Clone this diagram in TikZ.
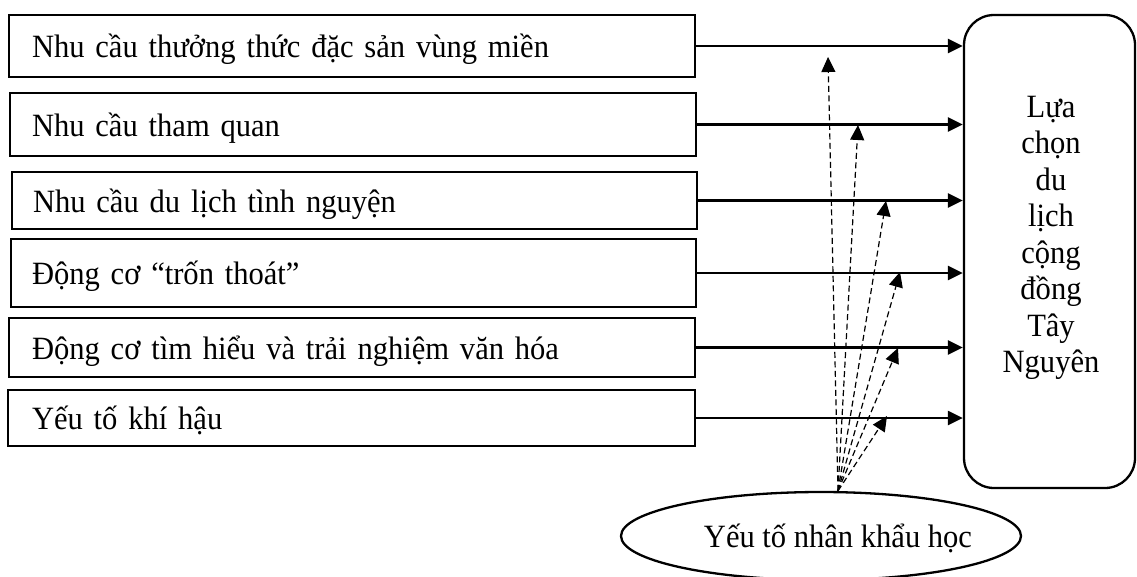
\documentclass[tikz,border=0pt]{standalone}
\usepackage{fontspec}
\setmainfont{Liberation Serif}[FakeStretch=0.94]
\usetikzlibrary{arrows.meta,shapes.geometric}
\begin{document}
\begin{tikzpicture}[x=1pt,y=-1pt,
  every node/.style={font=\fontsize{32.5}{36.5}\selectfont},
  lbox/.style={draw, line width=2.3pt, rectangle, inner ysep=0pt,
    text height=30pt, text depth=7pt, align=left},
  rbox/.style={draw, line width=2.3pt, rounded corners=30pt, inner sep=0pt},
  ebox/.style={draw, ellipse, line width=2.3pt, inner sep=0pt,
    text height=30pt, text depth=7pt},
  sarrow/.style={line width=2.3pt, -{Triangle[length=15pt,width=14pt]}},
  darrow/.style={line width=1.2pt, dash pattern=on 6pt off 3.5pt,
    -{Triangle[length=15pt,width=14pt]}},
]
\useasboundingbox (0,0) rectangle (1137,576);

% left boxes
\node[lbox, minimum width=686pt, minimum height=62pt, inner xsep=23pt, text width=640pt] (b1) at (352,46) {Nhu cầu thưởng thức đặc sản vùng miền};
\node[lbox, minimum width=686pt, minimum height=63pt, inner xsep=22pt, text width=642pt] (b2) at (353,124.5) {Nhu cầu tham quan};
\node[lbox, minimum width=685pt, minimum height=57pt, inner xsep=21pt, text width=643pt] (b3) at (354.5,200.5) {Nhu cầu du lịch tình nguyện};
\node[lbox, minimum width=685pt, minimum height=68pt, inner xsep=21pt, text width=643pt] (b4) at (353.5,273) {Động cơ “trốn thoát”};
\node[lbox, minimum width=686pt, minimum height=59pt, inner xsep=23pt, text width=640pt] (b5) at (352,347.5) {Động cơ tìm hiểu và trải nghiệm văn hóa};
\node[lbox, minimum width=687pt, minimum height=56pt, inner xsep=24pt, text width=639pt] (b6) at (351.5,418) {Yếu tố khí hậu};

% right box
\node[rbox, minimum width=171pt, minimum height=473pt] (R) at (1049.5,251.5) {};
\node[inner sep=0pt, anchor=base] (Rt) at (1051,117) {\begin{tabular}[t]{@{}c@{}}Lựa\\chọn\\du\\lịch\\cộng\\đồng\\Tây\\Nguyên\end{tabular}};

% ellipse
\node[ebox, minimum width=400pt, minimum height=88pt] (E) at (821,536) {\makebox[0pt][c]{\hspace*{34pt}Yếu tố nhân khẩu học}};
\coordinate (e0) at ([xshift=17pt]E.north);

% solid arrows
\foreach \i in {1,...,6}{
  \draw[sarrow] (b\i.east) -- (b\i.east -| R.west);
}

% dashed arrows
\coordinate (d1) at (828,57);
\coordinate (d2) at (858,125);
\coordinate (d3) at (886,201);
\coordinate (d4) at (900,272);
\coordinate (d5) at (898,348);
\coordinate (d6) at (887,416);
\foreach \i in {1,...,6}{
  \draw[darrow] (e0) -- (d\i);
}
\end{tikzpicture}
\end{document}
